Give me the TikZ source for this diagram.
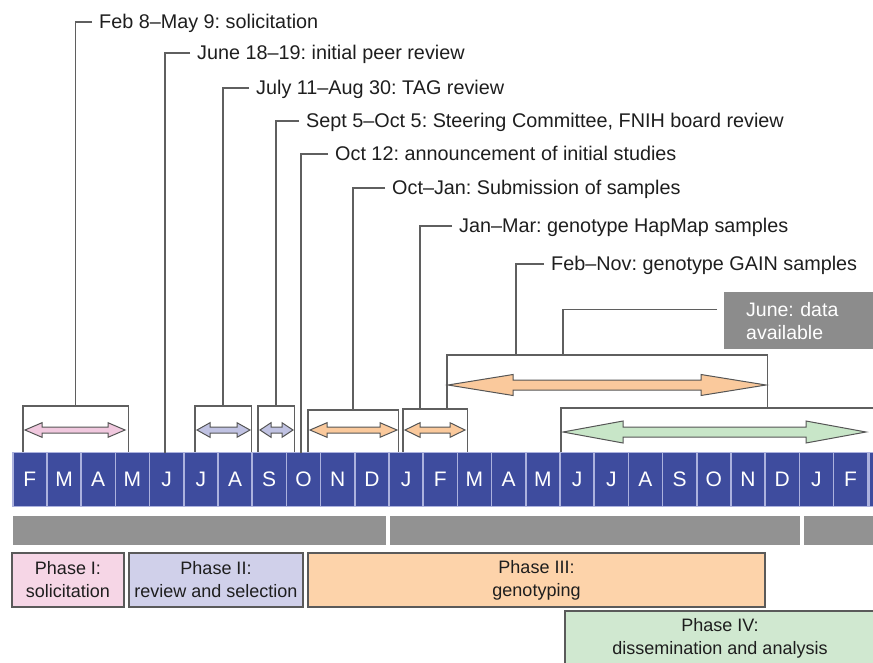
\documentclass[tikz,border=0pt]{standalone}
\usepackage{fontspec}
\setmainfont{Liberation Sans}
\frenchspacing

\definecolor{monthblue}{RGB}{62,76,158}
\definecolor{monthgap}{RGB}{172,178,222}
\definecolor{greybar}{RGB}{146,146,146}
\definecolor{junegrey}{RGB}{140,140,140}
\definecolor{leadgrey}{RGB}{95,95,95}
\definecolor{arrowgrey}{RGB}{85,85,85}
\definecolor{phaseline}{RGB}{90,90,90}
\definecolor{textdark}{RGB}{30,30,30}
\definecolor{pinkbox}{RGB}{246,214,230}
\definecolor{lavbox}{RGB}{208,208,234}
\definecolor{peachbox}{RGB}{253,211,170}
\definecolor{greenbox}{RGB}{208,232,208}
\definecolor{pinkarrow}{RGB}{240,200,222}
\definecolor{lavarrow}{RGB}{192,194,226}
\definecolor{peacharrow}{RGB}{250,201,156}
\definecolor{greenarrow}{RGB}{200,230,200}

\begin{document}
\begin{tikzpicture}[x=1pt, y=-1pt,
  leader/.style={draw=leadgrey, line width=1.4pt},
  lbl/.style={anchor=west, inner xsep=7pt, inner ysep=0pt, text height=13.5pt, text depth=0pt, text=textdark, font=\fontsize{19.8}{23}\selectfont},
  brk/.style={rectangle, inner sep=0pt},
  month/.style={fill=monthblue, text=white, minimum width=32.7pt, minimum height=53pt, inner sep=0pt, font=\fontsize{21}{21}\selectfont},
  phase/.style={draw=phaseline, line width=1.1pt, align=center, inner sep=0pt, minimum height=54pt, text=textdark, font=\fontsize{18}{23}\selectfont},
  arrowline/.style={draw=arrowgrey, line width=1pt, line join=miter}]

% command drawing dimensions
\newcommand{\mleft}{13.5}
\newcommand{\mpitch}{34.2}

% double headed arrow: left, right, y, shaft, head, head length, colour
\newcommand{\twoway}[7]{%
  \filldraw[arrowline, fill=#7] (#1,#3) -- ({#1+#6},{#3-#5}) -- ({#1+#6},{#3-#4}) -- ({#2-#6},{#3-#4}) -- ({#2-#6},{#3-#5}) -- (#2,#3) -- ({#2-#6},{#3+#5}) -- ({#2-#6},{#3+#4}) -- ({#1+#6},{#3+#4}) -- ({#1+#6},{#3+#5}) -- cycle;}

% ad hoc bounding box
\useasboundingbox (0,0) rectangle (873,662);
\clip (0,0) rectangle (873,662);

% labels
\node[lbl] (solic) at (92,22) {Feb 8--May 9: solicitation};
\node[lbl] (peer) at (190,53) {June 18--19: initial peer review};
\node[lbl] (tag) at (249,88) {July 11--Aug 30: TAG review};
\node[lbl] (stc) at (299,121) {Sept 5--Oct 5: Steering Committee, FNIH board review};
\node[lbl] (annc) at (328,154) {Oct 12: announcement of initial studies};
\node[lbl] (subm) at (385,188) {Oct--Jan: Submission of samples};
\node[lbl] (hapmap) at (452,226) {Jan--Mar: genotype HapMap samples};
\node[lbl] (gain) at (544,264) {Feb--Nov: genotype GAIN samples};
\node[anchor=north west, fill=junegrey, text=white, align=left, text width=106pt, inner xsep=22pt, minimum height=57pt, font=\fontsize{19.5}{23}\selectfont] (june) at (724,292) {June: data\\available};

% brackets
\node[brk, minimum width=105pt, minimum height=48pt] (brksol) at (75.5,430) {};
\node[brk, minimum width=56pt, minimum height=48pt] (brktag) at (223,430) {};
\node[brk, minimum width=36pt, minimum height=48pt] (brkstc) at (276,430) {};
\node[brk, minimum width=90pt, minimum height=44pt] (brksub) at (353,432) {};
\node[brk, minimum width=64pt, minimum height=45pt] (brkhap) at (435,431.5) {};
\node[brk, minimum width=320pt, minimum height=54pt] (brkgain) at (607,382) {};
\node[brk, minimum width=319pt, minimum height=46pt] (brkdis) at (720.5,431) {};
\foreach \b in {brksol,brktag,brkstc,brksub,brkhap,brkgain,brkdis}
  \draw[leader] (\b.south west) |- (\b.north east) -- (\b.south east);

% arrows
\twoway{25}{125}{430}{3}{7.3}{17}{pinkarrow}
\twoway{197}{250}{430}{3}{7.3}{13}{lavarrow}
\twoway{260}{293}{430}{3}{7.3}{11}{lavarrow}
\twoway{310}{397}{430}{3}{7.3}{17}{peacharrow}
\twoway{405}{465}{430}{3}{7.3}{15}{peacharrow}
\twoway{448}{766}{385}{5}{10.5}{65}{peacharrow}
\twoway{563}{866}{432}{5}{11}{60}{greenarrow}

% month bar
\fill[monthgap] (12,452) rectangle (880,507);
\foreach \m [count=\i] in {F,M,A,M,J,J,A,S,O,N,D,J,F,M,A,M,J,J,A,S,O,N,D,J,F}
  \node[month] (m\i) at ({\mleft + 16.35 + (\i-1)*\mpitch}, 479.5) {\m};
\fill[monthblue] (870,453) rectangle (880,506);

% leaders
\draw[leader] (solic.west) -| (brksol.north);
\draw[leader] (peer.west) -| ([xshift=-1.5pt]m5.north);
\draw[leader] (tag.west) -| (brktag.north);
\draw[leader] (stc.west) -| (brkstc.north);
\draw[leader] (annc.west) -| ([xshift=-2.5pt]m9.north);
\draw[leader] (subm.west) -| (brksub.north);
\draw[leader] (hapmap.west) -| ([xshift=-15pt]brkhap.north);
\draw[leader] (gain.west) -| ([xshift=-91pt]brkgain.north);
\draw[leader, shorten <=7pt] ([yshift=11.5pt]june.west) -| ([xshift=-44pt]brkgain.north);

% grey bars
\fill[greybar] (13,516) rectangle (386,545);
\fill[greybar] (390,516) rectangle (800,545);
\fill[greybar] (804,516) rectangle (880,545);

% phases
\node[phase, fill=pinkbox, minimum width=112pt] (ph1) at (68,580) {Phase I:\\solicitation};
\node[phase, fill=lavbox, minimum width=174pt] (ph2) at (216,580) {Phase II:\\review and selection};
\node[phase, fill=peachbox, minimum width=457pt] (ph3) at (536.5,580) {Phase III:\\genotyping};
\node[phase, fill=greenbox, minimum width=310pt] (ph4) at (720,638) {Phase IV:\\dissemination and analysis};

\end{tikzpicture}
\end{document}
